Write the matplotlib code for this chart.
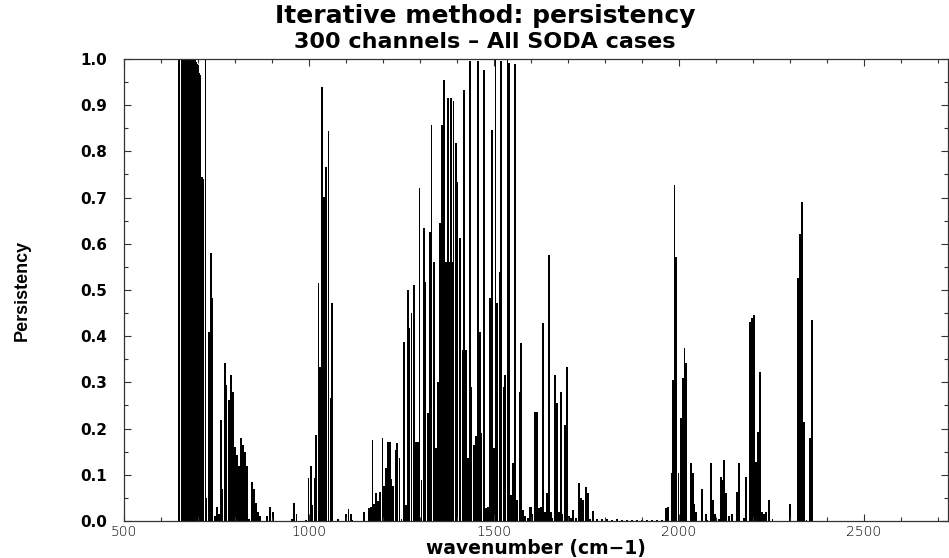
import matplotlib
matplotlib.use("Agg")
import matplotlib.pyplot as plt
from matplotlib.ticker import MultipleLocator

#########################
# DATA
wavenumber = [
    649, 657, 660, 662, 665, 668, 670, 673, 676, 678, 681, 684, 686, 689, 692,
    695, 697, 700, 703, 705, 708, 711, 714, 720, 723, 730, 735, 739, 746, 751,
    757, 762, 766, 773, 777, 784, 789, 795, 800, 805, 811, 816, 822, 827, 832,
    838, 846, 851, 857, 862, 868, 886, 895, 902,
    954, 960, 966, 993, 999, 1005, 1009, 1016, 1020, 1026, 1030, 1036, 1040,
    1046, 1053, 1058, 1062, 1078, 1100, 1107, 1113, 1117, 1149, 1162,
    1168, 1172, 1176, 1181, 1186, 1192, 1199, 1203, 1208, 1213, 1219, 1223,
    1228, 1234, 1239, 1245, 1250, 1257, 1262, 1268, 1272, 1277, 1284, 1289,
    1295, 1299, 1304, 1311, 1315, 1322, 1327, 1331, 1338, 1343, 1349, 1354,
    1359, 1365, 1370, 1376, 1380, 1384, 1387, 1391, 1397, 1401, 1408, 1415,
    1419, 1424, 1430, 1435, 1439, 1446, 1451, 1457, 1462, 1466, 1473, 1478,
    1484, 1489, 1495, 1500, 1504, 1509, 1516, 1520, 1526, 1531, 1537, 1541,
    1546, 1551, 1557, 1563, 1569, 1574, 1578, 1584, 1592, 1596,
    1600, 1604, 1611, 1616, 1622, 1627, 1632, 1638, 1643, 1649, 1654, 1658,
    1665, 1670, 1676, 1681, 1685, 1692, 1697, 1703, 1708, 1714, 1722, 1730,
    1735, 1741, 1749, 1754, 1760, 1768, 1778, 1792, 1805, 1819, 1832, 1846,
    1860, 1873, 1887, 1900, 1914, 1927, 1941, 1954,
    1965, 1970, 1980, 1984, 1988, 1992, 1999, 2005, 2011, 2015, 2020, 2032,
    2038, 2042, 2046, 2063, 2073, 2077, 2087, 2092, 2097, 2108, 2114, 2118,
    2123, 2128, 2135, 2143, 2157, 2162, 2176, 2182, 2192, 2197, 2203, 2208,
    2214, 2219, 2224, 2230, 2236, 2243, 2253, 2300, 2322, 2327, 2333, 2338,
    2345, 2355, 2360,
]
persistency = [
    1.0, 1.0, 1.0, 1.0, 1.0, 1.0, 1.0, 1.0, 1.0, 1.0, 1.0, 1.0, 1.0, 1.0, 1.0,
    0.994, 0.99, 0.987, 0.97, 0.965, 0.645, 0.745, 0.74, 1.0, 0.05, 0.41, 0.58, 0.483, 0.01, 0.03,
    0.015, 0.218, 0.07, 0.342, 0.294, 0.262, 0.315, 0.28, 0.16, 0.143, 0.12, 0.18, 0.165, 0.15, 0.12,
    0.005, 0.085, 0.07, 0.04, 0.02, 0.01, 0.01, 0.03, 0.02,
    0.005, 0.04, 0.016, 0.003, 0.092, 0.118, 0.035, 0.092, 0.186, 0.515, 0.334, 0.94, 0.702,
    0.767, 0.844, 0.266, 0.472, 0.005, 0.015, 0.026, 0.015, 0.003, 0.02, 0.028,
    0.031, 0.175, 0.037, 0.06, 0.043, 0.063, 0.18, 0.076, 0.115, 0.17, 0.17, 0.09,
    0.075, 0.154, 0.168, 0.136, 0.005, 0.388, 0.035, 0.5, 0.418, 0.45, 0.51, 0.172,
    0.172, 0.72, 0.089, 0.634, 0.518, 0.234, 0.626, 0.857, 0.561, 0.158, 0.3, 0.645,
    0.857, 0.955, 0.56, 0.915, 0.56, 0.915, 0.56, 0.91, 0.818, 0.734, 0.612, 0.37,
    0.933, 0.37, 0.136, 0.996, 0.29, 0.164, 0.185, 0.996, 0.41, 0.19, 0.976, 0.028,
    0.03, 0.483, 0.846, 0.158, 1.0, 0.472, 0.54, 0.995, 0.29, 0.316, 1.0, 0.992,
    0.056, 0.125, 0.99, 0.046, 0.28, 0.385, 0.023, 0.01, 0.007, 0.03,
    0.03, 0.015, 0.237, 0.237, 0.028, 0.03, 0.428, 0.02, 0.06, 0.576, 0.02, 0.007,
    0.316, 0.255, 0.02, 0.28, 0.016, 0.208, 0.334, 0.01, 0.007, 0.023, 0.007, 0.082,
    0.05, 0.046, 0.074, 0.06, 0.004, 0.022, 0.004, 0.004, 0.004, 0.003, 0.004, 0.003,
    0.003, 0.003, 0.003, 0.003, 0.003, 0.003, 0.003, 0.003,
    0.028, 0.03, 0.104, 0.305, 0.727, 0.572, 0.104, 0.223, 0.31, 0.374, 0.342, 0.125,
    0.104, 0.037, 0.02, 0.07, 0.016, 0.003, 0.125, 0.046, 0.016, 0.005, 0.096, 0.089,
    0.132, 0.06, 0.01, 0.016, 0.063, 0.125, 0.007, 0.096, 0.43, 0.44, 0.445, 0.128,
    0.193, 0.323, 0.02, 0.016, 0.02, 0.046, 0.004, 0.037, 0.526, 0.621, 0.691, 0.215,
    0.003, 0.18, 0.435,
]

title_lines = ["Iterative method: persistency", "300 channels \u2013 All SODA cases"]

#########################
# PLOT
fig = plt.figure(figsize=(9.49, 5.58), dpi=100)
ax = fig.add_axes([0.1307, 0.0663, 0.868, 0.8280])

ax.bar(wavenumber, persistency, width=4.8, color="black", linewidth=0, align="center")

ax.set_xlim(500, 2727)
ax.set_ylim(0.0, 1.0)

ax.xaxis.set_major_locator(MultipleLocator(500))
ax.xaxis.set_minor_locator(MultipleLocator(100))
ax.yaxis.set_major_locator(MultipleLocator(0.1))
ax.yaxis.set_minor_locator(MultipleLocator(0.05))
ax.tick_params(which="both", direction="in", top=True, right=True, width=0.8, color="#333333")
ax.tick_params(which="major", length=5)
ax.tick_params(which="minor", length=3)
ax.tick_params(axis="y", pad=12, labelsize=11)
ax.tick_params(axis="x", pad=3, labelsize=10)
ax.set_yticks([i / 10 for i in range(11)])
ax.set_yticklabels(["%.1f" % (i / 10) for i in range(11)], fontweight="bold")
ax.set_xticks([500, 1000, 1500, 2000, 2500])
ax.set_xticklabels(["500", "1000", "1500", "2000", "2500"], fontweight="light")

for s in ax.spines.values():
    s.set_linewidth(0.9)
    s.set_color("#333333")

ax.set_xlabel("wavenumber (cm\u22121)", fontsize=13.5, fontweight="bold", labelpad=0)
ax.set_ylabel("Persistency", fontsize=13, fontweight="bold",
              family=["Liberation Sans", "DejaVu Sans"], labelpad=36)

fig.text(0.511, 0.971, title_lines[0], ha="center", va="center", fontsize=18, fontweight="bold")
fig.text(0.511, 0.925, title_lines[1], ha="center", va="center", fontsize=16, fontweight="bold")

fig.savefig("out.png", dpi=100)
